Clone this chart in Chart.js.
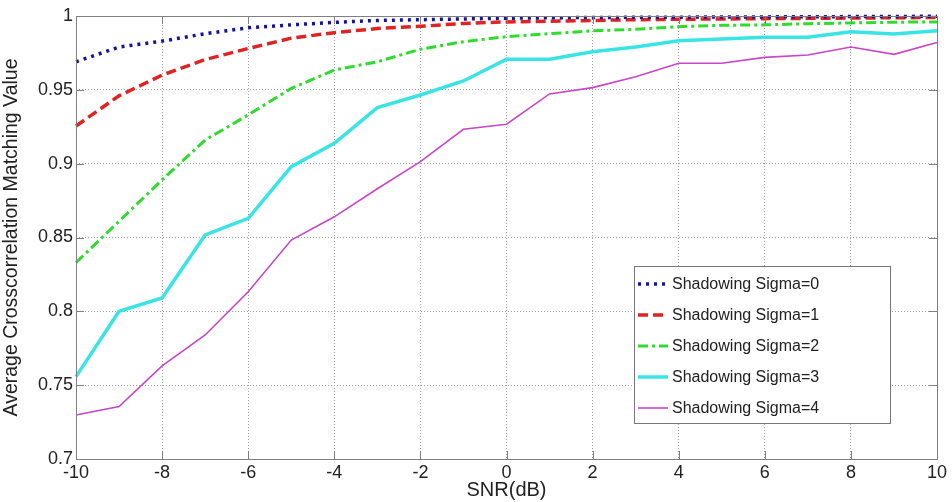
<!DOCTYPE html>
<html lang="en">
<head>
    <meta charset="UTF-8" />
    <title>Average Crosscorrelation Matching Value vs SNR</title>
    <script src="https://cdn.jsdelivr.net/npm/chart.js"></script>
    <style>
        html, body { margin: 0; padding: 0; background: #fff; }
        #wrap { width: 952px; height: 502px; position: relative; }
    </style>
</head>
<body>
    <div id="wrap"><canvas id="myChart"></canvas></div>

    <script>
        // SNR values (dB)
        const snr = [-10, -9, -8, -7, -6, -5, -4, -3, -2, -1, 0, 1, 2, 3, 4, 5, 6, 7, 8, 9, 10];

        // values
        const sigma0 = [0.969, 0.979, 0.983, 0.988, 0.992, 0.994, 0.9957, 0.997, 0.9975, 0.998, 0.9985, 0.9988, 0.999, 0.9991, 0.9992, 0.9993, 0.9994, 0.9995, 0.9996, 0.9997, 0.9998];
        const sigma1 = [0.9255, 0.946, 0.960, 0.9705, 0.978, 0.985, 0.9887, 0.9915, 0.993, 0.995, 0.996, 0.9965, 0.997, 0.9975, 0.9978, 0.998, 0.9982, 0.9984, 0.9986, 0.9988, 0.999];
        const sigma2 = [0.833, 0.861, 0.889, 0.916, 0.933, 0.951, 0.9634, 0.969, 0.9775, 0.9826, 0.986, 0.988, 0.990, 0.991, 0.9928, 0.9937, 0.994, 0.9948, 0.9953, 0.9958, 0.996];
        const sigma3 = [0.7558, 0.800, 0.809, 0.8517, 0.863, 0.898, 0.9138, 0.938, 0.9465, 0.956, 0.9707, 0.9707, 0.9758, 0.979, 0.9833, 0.9844, 0.9856, 0.9856, 0.9894, 0.9878, 0.990];
        const sigma4 = [0.7298, 0.7355, 0.763, 0.784, 0.8133, 0.8483, 0.864, 0.883, 0.9014, 0.9233, 0.9267, 0.9472, 0.9515, 0.9589, 0.968, 0.968, 0.972, 0.9736, 0.979, 0.974, 0.982];

        const seriesLabels = ['Shadowing Sigma=0', 'Shadowing Sigma=1', 'Shadowing Sigma=2', 'Shadowing Sigma=3', 'Shadowing Sigma=4'];
        const yTickLabels = { '1': '1', '0.95': '0.95', '0.9': '0.9', '0.85': '0.85', '0.8': '0.8', '0.75': '0.75', '0.7': '0.7' };

        const FONT = "'Liberation Sans', Arial, sans-serif";

        const styles = [
            { color: '#1414a0', width: 3.5, dash: [3, 5] },
            { color: '#e02222', width: 3.5, dash: [10, 5] },
            { color: '#2edc2e', width: 3, dash: [10, 4, 3, 4] },
            { color: '#3ae4e4', width: 3.5, dash: [] },
            { color: '#c846c8', width: 1.6, dash: [] }
        ];

        const allSeries = [sigma0, sigma1, sigma2, sigma3, sigma4];
        const datasets = allSeries.map((vals, i) => ({
            label: seriesLabels[i],
            data: snr.map((x, j) => ({ x: x, y: vals[j] })),
            borderColor: styles[i].color,
            backgroundColor: styles[i].color,
            borderWidth: styles[i].width,
            borderDash: styles[i].dash,
            pointRadius: 0,
            tension: 0,
            clip: 4
        }));

        // box around plot + legend inside the plot, MATLAB style
        const boxAndLegend = {
            id: 'boxAndLegend',
            afterDatasetsDraw(chart) {
                const ctx = chart.ctx;
                const a = chart.chartArea;
                ctx.save();
                ctx.strokeStyle = '#808080';
                ctx.lineWidth = 1;
                ctx.setLineDash([]);
                ctx.strokeRect(a.left + 0.5, a.top + 0.5, a.right - a.left, a.bottom - a.top);

                // small inward ticks
                const xs = chart.scales.x, ys = chart.scales.y;
                ctx.beginPath();
                xs.ticks.forEach(t => {
                    const px = Math.round(xs.getPixelForValue(t.value)) + 0.5;
                    ctx.moveTo(px, a.bottom); ctx.lineTo(px, a.bottom - 8);
                    ctx.moveTo(px, a.top); ctx.lineTo(px, a.top + 8);
                });
                ys.ticks.forEach(t => {
                    const py = Math.round(ys.getPixelForValue(t.value)) + 0.5;
                    ctx.moveTo(a.left, py); ctx.lineTo(a.left + 8, py);
                    ctx.moveTo(a.right, py); ctx.lineTo(a.right - 8, py);
                });
                ctx.stroke();

                // legend
                const lx = a.right - 303, ly = 266, lw = 256, lh = 157;
                ctx.fillStyle = '#fff';
                ctx.fillRect(lx, ly, lw, lh);
                ctx.strokeStyle = '#777';
                ctx.strokeRect(lx + 0.5, ly + 0.5, lw, lh);
                ctx.font = '16px ' + FONT;
                ctx.textAlign = 'left';
                ctx.textBaseline = 'middle';
                chart.data.datasets.forEach((ds, i) => {
                    const cy = ly + 18 + i * 31;
                    ctx.beginPath();
                    ctx.strokeStyle = ds.borderColor;
                    ctx.lineWidth = ds.borderWidth;
                    ctx.setLineDash(ds.borderDash);
                    ctx.moveTo(lx + 4, cy);
                    ctx.lineTo(lx + 34, cy);
                    ctx.stroke();
                    ctx.setLineDash([]);
                    ctx.fillStyle = '#222';
                    ctx.fillText(ds.label, lx + 38, cy + 1);
                });
                ctx.restore();
            }
        };

        const ctx = document.getElementById('myChart').getContext('2d');
        const myChart = new Chart(ctx, {
            type: 'line',
            data: { datasets: datasets },
            plugins: [boxAndLegend],
            options: {
                responsive: true,
                maintainAspectRatio: false,
                animation: false,
                layout: { padding: { top: 16, right: 15, left: 0, bottom: 0 } },
                plugins: {
                    legend: { display: false },
                    tooltip: { enabled: false }
                },
                scales: {
                    x: {
                        type: 'linear',
                        min: -10,
                        max: 10,
                        afterFit: s => { s.height = 43; },
                        ticks: {
                            stepSize: 2,
                            color: '#222',
                            font: { size: 18, family: FONT },
                            padding: 3,
                            maxRotation: 0
                        },
                        grid: {
                            color: '#a0a0a0',
                            lineWidth: 1,
                            drawTicks: false
                        },
                        border: { display: false, dash: [1, 2] },
                        title: {
                            display: true,
                            text: 'SNR(dB)',
                            color: '#222',
                            font: { size: 20, family: FONT },
                            padding: { top: 0, bottom: 0 }
                        }
                    },
                    y: {
                        min: 0.7,
                        max: 1,
                        afterFit: s => { s.width = 76; },
                        ticks: {
                            stepSize: 0.05,
                            color: '#222',
                            font: { size: 18, family: FONT },
                            padding: 3,
                            callback: v => yTickLabels[String(Math.round(v * 100) / 100)] ?? ''
                        },
                        grid: {
                            color: '#a0a0a0',
                            lineWidth: 1,
                            drawTicks: false
                        },
                        border: { display: false, dash: [1, 2] },
                        title: {
                            display: true,
                            text: 'Average Crosscorrelation Matching Value',
                            color: '#222',
                            font: { size: 19.5, family: FONT },
                            padding: { top: 0, bottom: 10 }
                        }
                    }
                }
            }
        });
    </script>
</body>
</html>
